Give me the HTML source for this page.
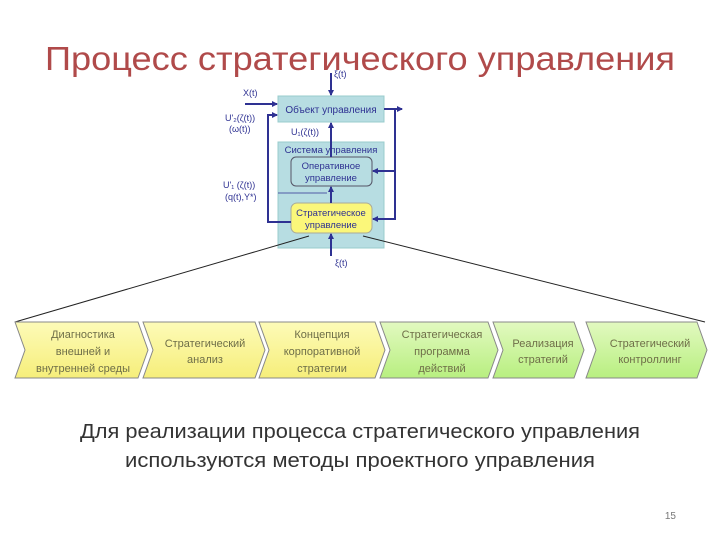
<!DOCTYPE html>
<html><head><meta charset="utf-8"><style>
html,body{margin:0;padding:0;background:#fff;width:720px;height:540px;overflow:hidden}
svg{display:block}
text{font-family:"Liberation Sans",sans-serif}
</style></head><body>
<svg width="720" height="540" viewBox="0 0 720 540" xmlns="http://www.w3.org/2000/svg">
<defs>
<linearGradient id="y" x1="0" y1="0" x2="0" y2="1"><stop offset="0" stop-color="#fdfbb8"/><stop offset="1" stop-color="#f6ee7a"/></linearGradient>
<linearGradient id="g" x1="0" y1="0" x2="0" y2="1"><stop offset="0" stop-color="#e2f9c0"/><stop offset="1" stop-color="#b8ef80"/></linearGradient>
<marker id="a" markerWidth="6" markerHeight="6" refX="5" refY="3" orient="auto" markerUnits="userSpaceOnUse"><path d="M0,0 L6,3 L0,6z" fill="#2e3192"/></marker>
</defs>
<text x="45" y="70" font-size="33" fill="#b04a4a" textLength="630" lengthAdjust="spacingAndGlyphs">Процесс стратегического управления</text>
<rect x="278" y="96" width="106" height="26" fill="#b7dde2" stroke="#9cc"/>
<text x="331" y="113" text-anchor="middle" font-size="10" fill="#2e3192">Объект управления</text>
<rect x="278" y="142" width="106" height="106" fill="#b7dde2" stroke="#9cc"/>
<text x="331" y="153" text-anchor="middle" font-size="9.5" fill="#2e3192">Система управления</text>
<rect x="291" y="157" width="81" height="29" rx="5" fill="#b7dde2" stroke="#556"/>
<text x="331" y="169" text-anchor="middle" font-size="9.5" fill="#2e3192">Оперативное</text>
<text x="331" y="181" text-anchor="middle" font-size="9.5" fill="#2e3192">управление</text>
<rect x="291" y="203" width="81" height="30" rx="6" fill="#fbf77a" stroke="#aa9"/>
<text x="331" y="216" text-anchor="middle" font-size="9.5" fill="#2e3192">Стратегическое</text>
<text x="331" y="228" text-anchor="middle" font-size="9.5" fill="#2e3192">управление</text>
<line x1="309" y1="236" x2="15" y2="322" stroke="#222" stroke-width="1"/>
<line x1="363" y1="236" x2="705" y2="322" stroke="#222" stroke-width="1"/>
<g stroke="#2e3192" stroke-width="2" fill="none">
<line x1="331" y1="73" x2="331" y2="95" marker-end="url(#a)"/>
<line x1="245" y1="104" x2="277" y2="104" marker-end="url(#a)"/>
<polyline points="291,222 268,222 268,115 277,115" marker-end="url(#a)"/>
<line x1="384" y1="109" x2="402" y2="109" marker-end="url(#a)"/>
<polyline points="384,109 395,109 395,219 373,219" marker-end="url(#a)"/>
<line x1="395" y1="171" x2="373" y2="171" marker-end="url(#a)"/>
<line x1="331" y1="157" x2="331" y2="123" marker-end="url(#a)"/>
<line x1="331" y1="203" x2="331" y2="187" marker-end="url(#a)"/>
<line x1="331" y1="256" x2="331" y2="234" marker-end="url(#a)"/>
</g>
<line x1="278" y1="193" x2="327" y2="193" stroke="#2e3192" stroke-width="0.8"/>
<g font-size="9" fill="#2e3192">
<text x="334" y="77">ξ(t)</text>
<text x="243" y="96">X(t)</text>
<text x="225" y="121">U'₂(ζ(t))</text>
<text x="229" y="132">(ω(t))</text>
<text x="291" y="135">U₁(ζ(t))</text>
<text x="223" y="188">U'₁ (ζ(t))</text>
<text x="225" y="200">(q(t),Y*)</text>
<text x="335" y="266">ξ(t)</text>
</g>
<g stroke="#888" stroke-width="1">
<polygon points="15,322 138,322 148,350 138,378 15,378 25,350" fill="url(#y)"/>
<polygon points="143,322 255,322 265,350 255,378 143,378 153,350" fill="url(#y)"/>
<polygon points="259,322 375,322 385,350 375,378 259,378 269,350" fill="url(#y)"/>
<polygon points="380,322 488,322 498,350 488,378 380,378 390,350" fill="url(#g)"/>
<polygon points="493,322 574,322 584,350 574,378 493,378 503,350" fill="url(#g)"/>
<polygon points="586,322 697,322 707,350 697,378 586,378 596,350" fill="url(#g)"/>
</g>
<g font-size="11" fill="#6e6e48" text-anchor="middle">
<text x="83" y="338">Диагностика</text><text x="83" y="355">внешней и</text><text x="83" y="372">внутренней среды</text>
<text x="205" y="347">Стратегический</text><text x="205" y="363">анализ</text>
<text x="322" y="338">Концепция</text><text x="322" y="355">корпоративной</text><text x="322" y="372">стратегии</text>
<text x="442" y="338">Стратегическая</text><text x="442" y="355">программа</text><text x="442" y="372">действий</text>
<text x="543" y="347">Реализация</text><text x="543" y="363">стратегий</text>
<text x="650" y="347">Стратегический</text><text x="650" y="363">контроллинг</text>
</g>
<text x="80" y="438" font-size="20" fill="#333" textLength="560" lengthAdjust="spacingAndGlyphs">Для реализации процесса стратегического управления</text>
<text x="125" y="467" font-size="20" fill="#333" textLength="470" lengthAdjust="spacingAndGlyphs">используются методы проектного управления</text>
<text x="676" y="519" text-anchor="end" font-size="10" fill="#777">15</text>
</svg>
</body></html>
